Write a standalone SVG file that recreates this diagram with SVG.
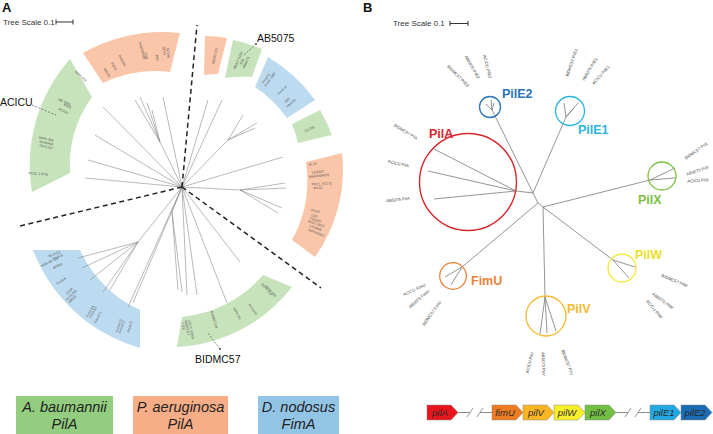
<svg xmlns="http://www.w3.org/2000/svg" width="713" height="434" viewBox="0 0 713 434">
<style>
text{font-family:"Liberation Sans",Arial,sans-serif}
.tiny{font-size:3.4px;fill:#555;text-anchor:middle}
.lb{font-size:4.2px;fill:#444;text-anchor:middle}
.tree{stroke:#8a8a8a;stroke-width:.6;fill:none}
.treeB{stroke:#7a7a7a;stroke-width:.8;fill:none}
.dash{stroke:#222;stroke-width:1.5;stroke-dasharray:5 3.5;fill:none}
.g{fill:#c6e3bb}.o{fill:#fac6a9}.b{fill:#bddbf0}
.cl{font-weight:bold;font-size:12.5px}
.gene{stroke:#8a8a8a;stroke-width:.5}
.gt{font-style:italic;font-size:9.5px;fill:#2a2a2a;text-anchor:middle}
.lg{font-style:italic;font-size:14.5px;fill:#222;text-anchor:middle}
.big{font-size:10.5px;fill:#111}
.lead{stroke:#555;stroke-width:.7;stroke-dasharray:2 1.5;fill:none}
.bar{stroke:#333;stroke-width:1;fill:none}
.ts{font-size:8px;fill:#333}
</style>

<!-- Panel labels -->
<text x="2" y="12" font-size="13" font-weight="bold" fill="#111">A</text>
<text x="363" y="12" font-size="13" font-weight="bold" fill="#111">B</text>
<text class="ts" x="3" y="25">Tree Scale 0.1</text>
<path class="bar" d="M56 22H73M56 19.5V24.5M73 19.5V24.5"/>
<text class="ts" x="393" y="26">Tree Scale 0.1</text>
<path class="bar" d="M450 23.5H468M450 21V26M468 21V26"/>

<!-- Panel A colour bands -->
<g id="band-abaumannii-left">
<path class="g" d="M32 192A160 160 0 0 1 70 59L92 97A118 118 0 0 0 70 173Z"/>
<g class="tiny">
<text transform="translate(80 77) rotate(42)">NIPH 410</text>
<text transform="translate(64 103) rotate(25)">AB 16B3</text>
<text transform="translate(67 107) rotate(25)">6323</text>
<text transform="translate(63 112) rotate(25)">ACICU</text>
<text transform="translate(46 140) rotate(12)">NIPH 329</text>
<text transform="translate(46 144) rotate(12)">AbH4443</text>
<text transform="translate(46 148) rotate(12)">OIFC137</text>
<text transform="translate(38 175) rotate(5)">ATCC 17978</text>
</g>
</g>
<g id="band-paeruginosa-top">
<path class="o" d="M83 53A165 165 0 0 1 180 33L170 72A120 120 0 0 0 103 83Z"/>
<g class="tiny">
<text transform="translate(106 73) rotate(58)">SAD30</text>
<text transform="translate(113 67) rotate(60)">PAO1</text>
<text transform="translate(121 61) rotate(63)">PA8G96</text>
<text transform="translate(141 51) rotate(74)">PA8C06426</text>
<text transform="translate(145 56) rotate(75)">PDB</text>
<text transform="translate(156 58) rotate(80)">PA1</text>
<text transform="translate(163 51) rotate(83)">STC9</text>
<text transform="translate(167 53) rotate(84)">SO190</text>
</g>
</g>
<g id="band-paeruginosa-small">
<path class="o" d="M205 36A155 155 0 0 1 227 38L218 74A116 116 0 0 0 204 75Z"/>
<text class="tiny" transform="translate(216 56) rotate(-78)">86000 321</text>
</g>
<g id="band-ab5075">
<path class="g" d="M233 40A158 158 0 0 1 262 49L252 77A120 120 0 0 0 225 78Z"/>
<g class="tiny">
<text transform="translate(239 61) rotate(-66)">AB307-0294</text>
<text transform="translate(243 62) rotate(-66)">D36</text>
<text transform="translate(247 63) rotate(-66)">AB5075</text>
</g>
</g>
<g id="band-dnodosus-top">
<path class="b" d="M268 57A158 158 0 0 1 315 100L287 118A124 124 0 0 0 255 87Z"/>
<g class="tiny">
<text transform="translate(267 79) rotate(-55)">FimA D</text>
<text transform="translate(271 80) rotate(-55)">FimA 1989</text>
<text transform="translate(283 91) rotate(-45)">FimA H</text>
<text transform="translate(288 101) rotate(-42)">H20</text>
<text transform="translate(292 104) rotate(-42)">VB4101</text>
</g>
</g>
<g id="band-g1726">
<path class="g" d="M320 110A158 158 0 0 1 332 135L298 143A125 125 0 0 0 292 124Z"/>
<text class="tiny" transform="translate(310 130) rotate(-24)">G1726</text>
</g>
<g id="band-paeruginosa-right">
<path class="o" d="M342 153A150 150 0 0 1 315 257L292 240A125 125 0 0 0 306 162Z"/>
<g class="tiny">
<text transform="translate(313 165) rotate(-10)">BL16</text>
<text transform="translate(318 173) rotate(-6)">LES431</text>
<text transform="translate(319 177) rotate(-6)">BWHPSA009</text>
<text transform="translate(322 185) rotate(-2)">PA21_ST175</text>
<text transform="translate(318 189) rotate(-2)">Pa 52</text>
<text transform="translate(315 212) rotate(12)">PA 62</text>
<text transform="translate(314 217) rotate(14)">C40</text>
<text transform="translate(315 221) rotate(16)">T63266</text>
<text transform="translate(316 225) rotate(18)">ATCC 9027</text>
<text transform="translate(315 229) rotate(20)">LESB58</text>
<text transform="translate(316 234) rotate(22)">WPAVMM2</text>
</g>
</g>
<g id="band-abaumannii-bottom">
<path class="g" d="M292 287A155 155 0 0 1 177 347L182 317A122 122 0 0 0 263 275Z"/>
<g class="tiny">
<text transform="translate(182 326) rotate(82)">C/78</text>
<text transform="translate(186 328) rotate(80)">BIDMC57</text>
<text transform="translate(190 330) rotate(78)">ATCC 19606</text>
<text transform="translate(213 320) rotate(73)">BJAB07104</text>
<text transform="translate(236 314) rotate(62)">NIPH 80</text>
<text transform="translate(252 310) rotate(55)">6013150</text>
<text transform="translate(266 290) rotate(48)">NIPH 615</text>
<text transform="translate(270 292) rotate(48)">NIPH 601</text>
</g>
</g>
<g id="band-dnodosus-bottom">
<path class="b" d="M140 348A162 162 0 0 1 33 250L80 250A122 122 0 0 0 140 310Z"/>
<g class="tiny">
<text transform="translate(55 255) rotate(-22)">B1 ACQ</text>
<text transform="translate(58 258) rotate(-22)">FimA B</text>
<text transform="translate(50 263) rotate(-25)">India AP und</text>
<text transform="translate(58 267) rotate(-25)">AP908</text>
<text transform="translate(62 282) rotate(-35)">FimA A</text>
<text transform="translate(70 292) rotate(-45)">A198</text>
<text transform="translate(72 296) rotate(-45)">VCS1001</text>
<text transform="translate(73 300) rotate(-45)">AB592</text>
<text transform="translate(91 312) rotate(-60)">FimA E1</text>
<text transform="translate(94 313) rotate(-60)">FimA E2</text>
<text transform="translate(99 318) rotate(-62)">FimA F1</text>
<text transform="translate(120 326) rotate(-72)">FimA C2</text>
<text transform="translate(123 327) rotate(-72)">FimA C1</text>
<text transform="translate(131 327) rotate(-75)">FimA G</text>
</g>
</g>

<!-- Panel A tree and separators -->
<g id="connectors-A">
<path class="tree" d="M182 187L103 107M182 187L95 135M182 187L88 160M182 187L85 178
M182 187L160 142L135 100M160 142L140 97M160 142L147 103M160 142L152 110M182 187L163 97
M182 187L208 100M182 187L222 100M182 187L228 140L243 115M228 140L257 123M228 140L255 128
M182 187L283 157M182 187L240 190L285 183M240 190L286 188M240 190L282 208M240 190L278 213
M182 187L138 242L78 258M138 242L82 268M138 242L90 280M138 242L103 292M138 242L110 290M182 187L128 307M182 187L133 303
M182 187L172 212L182 292M172 212L178 290M182 187L187 295M182 187L197 295M182 187L227 303M182 187L240 262"/>
<path class="dash" d="M182 187L197 25M182 187L20 226M182 187L321 288"/>
<path class="lead" d="M32 105L56 115M256 44L243 56M220 349L208 333"/>
<circle cx="256" cy="44" r="1" fill="#555"/>
<circle cx="220" cy="349" r="1" fill="#555"/>
</g>
<text class="big" x="0" y="106">ACICU</text>
<text class="big" x="257" y="42">AB5075</text>
<text class="big" x="195" y="363">BIDMC57</text>

<!-- Panel B clusters -->
<g id="connectors-B">
<path class="treeB" d="M533 193L492 110L486 104M492 110L491 100M492 110L494 103
M533 193L566 117L564 103M566 117L578 103M566 117L574 108
M533 193L516 191L434 149M516 191L428 171M516 191L434 199
M533 193L538 203L543 207L650 180L675 168M650 180L675 178
M538 203L462 267L445 277M462 267L451 285
M543 207L545 297L540 334M545 297L556 331M545 297L547 333
M543 207L613 260L635 267M613 260L629 278"/>
</g>
<g id="cluster-PilE2">
<circle cx="490" cy="107" r="10.5" fill="none" stroke="#2a74b8" stroke-width="1.3"/>
<text class="cl" x="502" y="98" fill="#2a74b8">PilE2</text>
<text class="lb" transform="translate(457 77) rotate(45)">BIDMC57 PilE2</text>
<text class="lb" transform="translate(471 68) rotate(60)">AB5075 PilE2</text>
<text class="lb" transform="translate(486 67) rotate(76)">ACICU PilE2</text>
</g>
<g id="cluster-PilE1">
<circle cx="570" cy="111" r="14.5" fill="none" stroke="#2bb5e1" stroke-width="1.3"/>
<text class="cl" x="578" y="134" fill="#2bb5e1">PilE1</text>
<text class="lb" transform="translate(573 63) rotate(-71)">BIDMC57 PilE1</text>
<text class="lb" transform="translate(591 70) rotate(-59)">AB5075 PilE1</text>
<text class="lb" transform="translate(602 76) rotate(-48)">ACICU PilE1</text>
</g>
<g id="cluster-PilA">
<circle cx="468" cy="182" r="48.5" fill="none" stroke="#d7262c" stroke-width="1.4"/>
<text class="cl" x="429" y="138" fill="#d7262c">PilA</text>
<text class="lb" transform="translate(405 133) rotate(31)">BIDMC57 PilA</text>
<text class="lb" transform="translate(398 165) rotate(13)">ACICU PilA</text>
<text class="lb" transform="translate(398 201) rotate(-6)">AB5075 PilA</text>
</g>
<g id="cluster-PilX">
<circle cx="662" cy="176" r="14" fill="none" stroke="#7cc142" stroke-width="1.3"/>
<text class="cl" x="638" y="204" fill="#7cc142">PilX</text>
<text class="lb" transform="translate(697 152) rotate(-35)">BIDMC57 PilX</text>
<text class="lb" transform="translate(698 172) rotate(-18)">AB5075 PilX</text>
<text class="lb" transform="translate(698 182) rotate(-4)">ACICU PilX</text>
</g>
<g id="cluster-FimU">
<circle cx="453" cy="276" r="13.3" fill="none" stroke="#ea8238" stroke-width="1.3"/>
<text class="cl" x="471" y="285" fill="#ea8238">FimU</text>
<text class="lb" transform="translate(415 291) rotate(-25)">ACICU FimU</text>
<text class="lb" transform="translate(420 300) rotate(-41)">AB5075 FimU</text>
<text class="lb" transform="translate(433 314) rotate(-55)">BIDMC57 FimU</text>
</g>
<g id="cluster-PilV">
<circle cx="546" cy="316" r="20" fill="none" stroke="#f5b82c" stroke-width="1.3"/>
<text class="cl" x="567" y="313" fill="#f5b82c">PilV</text>
<text class="lb" transform="translate(531 363) rotate(-76)">ACICU PilV</text>
<text class="lb" transform="translate(542 364) rotate(88)">AB5075 PilV</text>
<text class="lb" transform="translate(566 363) rotate(69)">BIDMC57 PilV</text>
</g>
<g id="cluster-PilW">
<circle cx="622" cy="268" r="14" fill="none" stroke="#f3ea2b" stroke-width="1.3"/>
<text class="cl" x="635" y="259" fill="#ece12a">PilW</text>
<text class="lb" transform="translate(674 282) rotate(22)">BIDMC57 PilW</text>
<text class="lb" transform="translate(662 302) rotate(36)">AB5075 PilW</text>
<text class="lb" transform="translate(653 310) rotate(50)">ACICU PilW</text>
</g>

<!-- Legend -->
<g id="legend-abaumannii">
<rect x="16" y="396" width="97" height="38" fill="#93cd7f"/>
<text class="lg" x="64.5" y="412">A.  baumannii</text>
<text class="lg" x="64.5" y="428.5">PilA</text>
</g>
<g id="legend-paeruginosa">
<rect x="133" y="396" width="95" height="38" fill="#f7ae86"/>
<text class="lg" x="180.5" y="412">P. aeruginosa</text>
<text class="lg" x="180.5" y="428.5">PilA</text>
</g>
<g id="legend-dnodosus">
<rect x="258" y="396" width="81" height="38" fill="#92c4e6"/>
<text class="lg" x="298.5" y="412">D. nodosus</text>
<text class="lg" x="298.5" y="428.5">FimA</text>
</g>

<!-- Gene cluster -->
<g id="gene-links">
<path d="M458 412.5H470M480 412.5H492M616 412.5H628M638 412.5H650" stroke="#8a8a8a" stroke-width="1" fill="none"/>
<path d="M467 417L473 408M477 417L483 408M625 417L631 408M635 417L641 408" stroke="#8a8a8a" stroke-width="0.9" fill="none"/>
</g>
<g id="gene-pilA"><path class="gene" d="M427 405H451L458 412.5L451 420H427Z" fill="#e8141b"/><text class="gt" x="440" y="416">pilA</text></g>
<g id="gene-fimU"><path class="gene" d="M492 405H516L523 412.5L516 420H492Z" fill="#f07c22"/><text class="gt" x="505" y="416">fimU</text></g>
<g id="gene-pilV"><path class="gene" d="M523 405H547L554 412.5L547 420H523Z" fill="#fbb621"/><text class="gt" x="536" y="416">pilV</text></g>
<g id="gene-pilW"><path class="gene" d="M554 405H578L585 412.5L578 420H554Z" fill="#f9ee2a"/><text class="gt" x="567" y="416">pilW</text></g>
<g id="gene-pilX"><path class="gene" d="M585 405H609L616 412.5L609 420H585Z" fill="#72bf44"/><text class="gt" x="598" y="416">pilX</text></g>
<g id="gene-pilE1"><path class="gene" d="M650 405H674L681 412.5L674 420H650Z" fill="#22a8e2"/><text class="gt" x="664" y="416">pilE1</text></g>
<g id="gene-pilE2"><path class="gene" d="M681 405H705L712 412.5L705 420H681Z" fill="#1a6db5"/><text class="gt" x="695" y="416">pilE2</text></g>
</svg>
